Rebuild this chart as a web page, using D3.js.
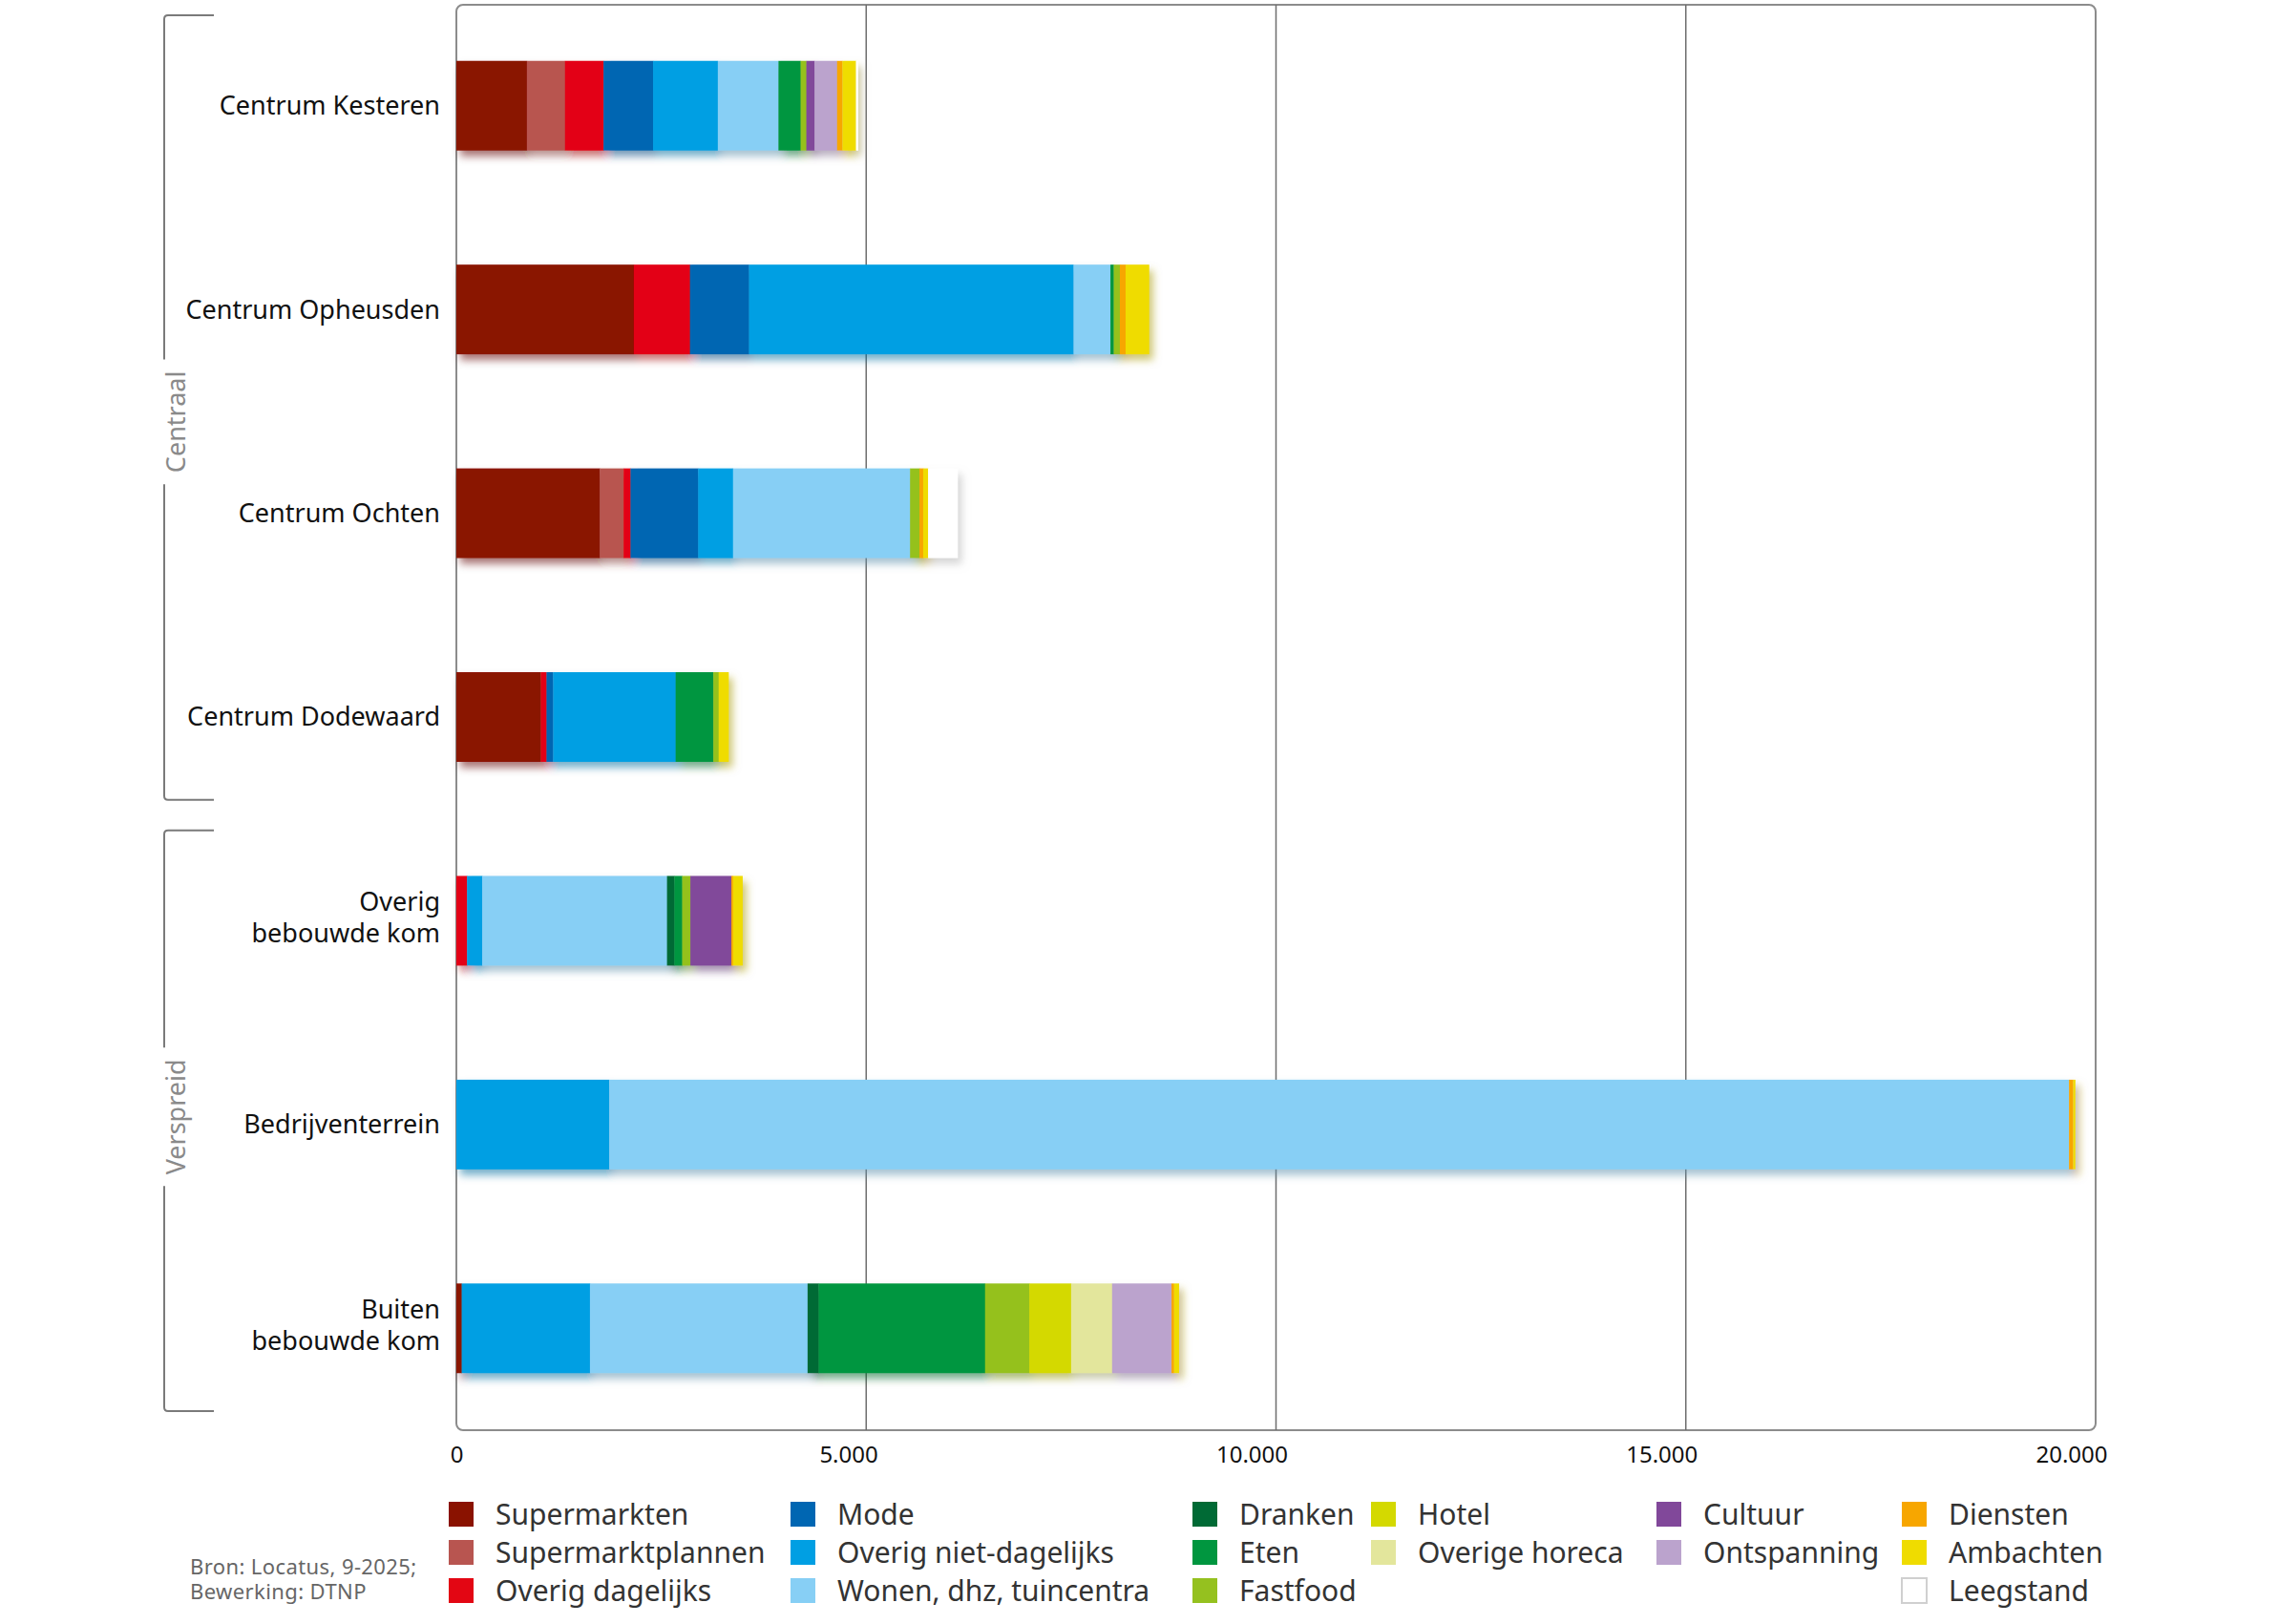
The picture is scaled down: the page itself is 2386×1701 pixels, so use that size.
<!DOCTYPE html>
<html>
<head>
<meta charset="utf-8">
<script src="https://cdn.jsdelivr.net/npm/d3@7"></script>
<style>
  body { margin: 0; background: #fff; }
  svg { display: block; font-family: "Noto Sans", sans-serif; }
</style>
</head>
<body>
<svg id="chart"></svg>
<script>
// Categories (top to bottom), label lines per category
const categories = ['Centrum Kesteren', 'Centrum Opheusden', 'Centrum Ochten',
  'Centrum Dodewaard', 'Overig bebouwde kom', 'Bedrijventerrein', 'Buiten bebouwde kom'];
const categoryLines = [['Centrum Kesteren'], ['Centrum Opheusden'], ['Centrum Ochten'],
  ['Centrum Dodewaard'], ['Overig', 'bebouwde kom'], ['Bedrijventerrein'], ['Buiten', 'bebouwde kom']];

const groups = [
  { name: 'Centraal', first: 0, last: 3 },
  { name: 'Verspreid', first: 4, last: 6 }
];

// Series values (m² wvo), one value per category
const supermarkten        = [860, 2165, 1750, 1030, 0, 0, 65];
const supermarktplannen   = [465, 0, 290, 0, 0, 0, 0];
const overigDagelijks     = [470, 685, 85, 70, 130, 0, 0];
const mode                = [605, 720, 825, 80, 0, 0, 0];
const overigNietDagelijks = [790, 3960, 425, 1495, 185, 1865, 1565];
const wonen               = [740, 450, 2160, 0, 2255, 17810, 2655];
const dranken             = [0, 0, 0, 0, 90, 0, 135];
const eten                = [270, 40, 0, 460, 95, 0, 2030];
const fastfood            = [70, 75, 115, 65, 100, 0, 540];
const hotel               = [0, 0, 0, 0, 0, 0, 510];
const overigeHoreca       = [0, 0, 0, 0, 0, 0, 500];
const cultuur             = [100, 0, 0, 0, 500, 0, 0];
const ontspanning         = [275, 0, 0, 0, 0, 0, 725];
const diensten            = [65, 70, 45, 0, 20, 50, 30];
const ambachten           = [165, 285, 60, 120, 115, 25, 60];
const leegstand           = [25, 0, 360, 0, 0, 0, 0];

const seriesNames = ['Supermarkten', 'Supermarktplannen', 'Overig dagelijks', 'Mode',
  'Overig niet-dagelijks', 'Wonen, dhz, tuincentra', 'Dranken', 'Eten', 'Fastfood',
  'Hotel', 'Overige horeca', 'Cultuur', 'Ontspanning', 'Diensten', 'Ambachten', 'Leegstand'];
const seriesValues = [supermarkten, supermarktplannen, overigDagelijks, mode,
  overigNietDagelijks, wonen, dranken, eten, fastfood, hotel, overigeHoreca,
  cultuur, ontspanning, diensten, ambachten, leegstand];
const seriesColors = ['#8a1200', '#b85550', '#e30613', '#0066b2', '#009fe3', '#87cff5',
  '#006a35', '#00963f', '#95c11f', '#d4d900', '#e3e69c', '#81489a', '#bba3cd',
  '#f7a600', '#efdc00', '#ffffff'];

// Legend columns (indices into seriesNames)
const legendColumns = [[0, 1, 2], [3, 4, 5], [6, 7, 8], [9, 10], [11, 12], [13, 14, 15]];

const xTicks = [0, 5000, 10000, 15000, 20000];

const width = 2386, height = 1701;
const plot = { left: 478, right: 2195, top: 5, bottom: 1498 };

const svg = d3.select('#chart')
  .attr('width', width)
  .attr('height', height);

// Shadow filter: darkened, blurred copy of the bar itself
const filter = svg.append('defs').append('filter')
  .attr('id', 'barShadow')
  .attr('x', '-5%').attr('y', '-30%')
  .attr('width', '115%').attr('height', '170%');
filter.append('feOffset').attr('in', 'SourceGraphic').attr('dx', 4).attr('dy', 6).attr('result', 'off');
filter.append('feGaussianBlur').attr('in', 'off').attr('stdDeviation', 4).attr('result', 'blur');
filter.append('feColorMatrix').attr('in', 'blur').attr('type', 'matrix')
  .attr('values', '0.45 0 0 0 0  0 0.45 0 0 0  0 0 0.45 0 0  0 0 0 0.55 0')
  .attr('result', 'shadow');
const merge = filter.append('feMerge');
merge.append('feMergeNode').attr('in', 'shadow');
merge.append('feMergeNode').attr('in', 'SourceGraphic');

// Scales
const x = d3.scaleLinear()
  .domain([0, 20000])
  .range([plot.left, plot.right]);

const y = d3.scaleBand()
  .domain(categories)
  .range([plot.top - 1, plot.bottom])
  .paddingInner(0.56)
  .paddingOuter(0.28);

// Stack
const rows = categories.map((c, i) => {
  const row = { category: c };
  seriesNames.forEach((s, j) => { row[s] = seriesValues[j][i]; });
  return row;
});
const stacked = d3.stack().keys(seriesNames)(rows);

// Frame
svg.append('rect')
  .attr('x', plot.left)
  .attr('y', plot.top)
  .attr('width', plot.right - plot.left)
  .attr('height', plot.bottom - plot.top)
  .attr('rx', 7)
  .attr('fill', 'none')
  .attr('stroke', '#8c8c8c')
  .attr('stroke-width', 2);

// Gridlines
svg.append('g')
  .selectAll('line')
  .data(xTicks.slice(1, -1))
  .join('line')
    .attr('x1', d => x(d)).attr('x2', d => x(d))
    .attr('y1', plot.top).attr('y2', plot.bottom)
    .attr('stroke', '#6e6e6e')
    .attr('stroke-width', 1.5);

// Bars: one group per category so the shadow follows the whole bar
const bars = svg.append('g')
  .selectAll('g')
  .data(categories)
  .join('g')
    .attr('filter', 'url(#barShadow)');

bars.selectAll('rect')
  .data(c => stacked.map((s, j) => {
    const d = s[categories.indexOf(c)];
    return { c, j, x0: d[0], x1: d[1] };
  }).filter(d => d.x1 > d.x0))
  .join('rect')
    .attr('x', d => x(d.x0))
    .attr('y', d => y(d.c))
    .attr('width', d => x(d.x1) - x(d.x0) + 0.3)
    .attr('height', y.bandwidth())
    .attr('fill', d => seriesColors[d.j]);

// X-axis labels
const nl = d3.formatLocale({ decimal: ',', thousands: '.', grouping: [3], currency: ['€', ''] });
const xAxis = svg.append('g')
  .attr('transform', `translate(0,${plot.bottom})`)
  .call(d3.axisBottom(x).tickValues(xTicks).tickFormat(nl.format(',.0f')).tickSize(0));
xAxis.select('.domain').remove();
xAxis.selectAll('text')
  .attr('font-family', '"Noto Sans", sans-serif')
  .attr('font-size', 24)
  .attr('fill', '#111')
  .attr('y', 34)
  .attr('dy', 0)
  .attr('text-anchor', d => d === 0 ? 'middle' : 'end')
  .attr('dx', d => d === 0 ? 0 : 12);

// Category labels
const catLabels = svg.append('g')
  .selectAll('text')
  .data(categories)
  .join('text')
    .attr('x', 461)
    .attr('y', d => y(d) + y.bandwidth() / 2)
    .attr('text-anchor', 'end')
    .attr('font-size', 27)
    .attr('fill', '#111');

catLabels.selectAll('tspan')
  .data((d, i) => categoryLines[i].map((t, k, a) => ({ t, k, n: a.length })))
  .join('tspan')
    .attr('x', 461)
    .attr('dy', d => d.k === 0 ? `${0.35 - (d.n - 1) * 0.72}em` : '1.22em')
    .text(d => d.t);

// Group brackets (label shift tuned per group)
const bracketX = 172, serif = 52;
const labelShift = [15, -4];
groups.forEach((g, gi) => {
  const top = y(categories[g.first]) - y.step() * y.paddingInner() / 2 + 12;
  const bottom = y(categories[g.last]) + y.bandwidth() + y.step() * y.paddingInner() / 2 - 20;
  const mid = (top + bottom) / 2 + labelShift[gi];

  const label = svg.append('text')
    .attr('transform', `translate(${bracketX + 22},${mid}) rotate(-90)`)
    .attr('text-anchor', 'middle')
    .attr('font-size', 27)
    .attr('fill', '#8a8a8a')
    .text(g.name);
  const half = label.node().getComputedTextLength() / 2 + 12;

  const line = d3.path();
  line.moveTo(bracketX + serif, top);
  line.lineTo(bracketX + 4, top);
  line.quadraticCurveTo(bracketX, top, bracketX, top + 4);
  line.lineTo(bracketX, mid - half);
  line.moveTo(bracketX, mid + half);
  line.lineTo(bracketX, bottom - 4);
  line.quadraticCurveTo(bracketX, bottom, bracketX + 4, bottom);
  line.lineTo(bracketX + serif, bottom);

  svg.append('path')
    .attr('d', line.toString())
    .attr('fill', 'none')
    .attr('stroke', '#7a7a7a')
    .attr('stroke-width', 2);
});

// Legend
const legendX = [470, 828, 1249, 1436, 1735, 1992];
const legendY = [1586, 1626, 1666];
const legend = svg.append('g');
legendColumns.forEach((col, ci) => {
  col.forEach((si, ri) => {
    legend.append('rect')
      .attr('x', legendX[ci])
      .attr('y', legendY[ri] - 13)
      .attr('width', 26)
      .attr('height', 26)
      .attr('fill', seriesColors[si])
      .attr('stroke', si === 15 ? '#d0d0d0' : 'none')
      .attr('stroke-width', 2);
    legend.append('text')
      .attr('x', legendX[ci] + 49)
      .attr('y', legendY[ri])
      .attr('dy', '0.35em')
      .attr('font-size', 30)
      .attr('fill', '#333')
      .text(seriesNames[si]);
  });
});

// Source
svg.append('text')
  .attr('x', 199)
  .attr('y', 1649)
  .attr('font-size', 22)
  .attr('letter-spacing', 0.4)
  .attr('fill', '#666')
  .selectAll('tspan')
  .data(['Bron: Locatus, 9-2025;', 'Bewerking: DTNP'])
  .join('tspan')
    .attr('x', 199)
    .attr('dy', (d, i) => i === 0 ? 0 : 26)
    .text(d => d);
</script>
</body>
</html>
